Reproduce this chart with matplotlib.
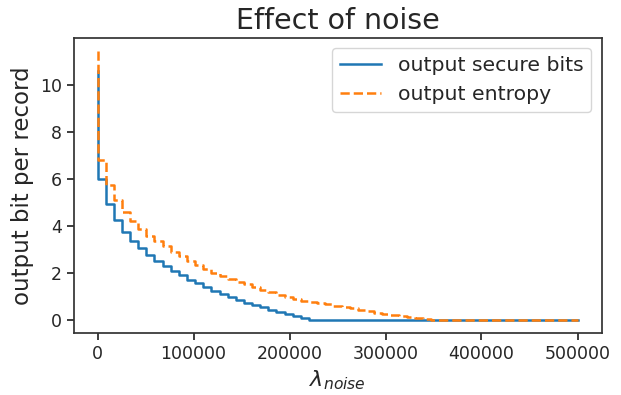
import numpy as np
import matplotlib
matplotlib.use("Agg")
import matplotlib.pyplot as plt

# ---------------------------------------------------------------------------
# DATA
# ---------------------------------------------------------------------------
N_POINTS = 60
LAMBDA_MAX = 500000

secure_bits = [
    10.6, 6.0, 4.95, 4.26, 3.76, 3.38, 3.05, 2.75, 2.49, 2.29,
    2.09, 1.90, 1.72, 1.56, 1.40, 1.25, 1.11, 0.97, 0.85, 0.74,
    0.62, 0.53, 0.43, 0.35, 0.26, 0.17, 0.07,
]
entropy = [
    11.46, 6.81, 5.77, 5.11, 4.61, 4.21, 3.87, 3.58, 3.35, 3.13,
    2.91, 2.71, 2.50, 2.32, 2.15, 1.99, 1.85, 1.73, 1.62, 1.51,
    1.39, 1.29, 1.18, 1.07, 0.99, 0.90, 0.82, 0.76, 0.71, 0.67,
    0.61, 0.55, 0.49, 0.43, 0.37, 0.31, 0.26, 0.21, 0.16, 0.11,
    0.07, 0.03,
]

SERIES_LABELS = ["output secure bits", "output entropy"]
TITLE = "Effect of noise"
XLABEL = r"$\lambda_{noise}$"
YLABEL = "output bit per record"

# pad with zeros once the bits run out
noise = np.linspace(0, LAMBDA_MAX, N_POINTS)
secure_bits = np.array(secure_bits + [0.0] * (N_POINTS - len(secure_bits)))
entropy = np.array(entropy + [0.0] * (N_POINTS - len(entropy)))

# ---------------------------------------------------------------------------
# STYLE
# ---------------------------------------------------------------------------
TEXT = "#262626"
plt.rcParams.update({
    "font.family": "DejaVu Sans",
    "text.color": TEXT,
    "axes.labelcolor": TEXT,
    "xtick.color": TEXT,
    "ytick.color": TEXT,
    "axes.edgecolor": "#333333",
    "axes.linewidth": 1.25,
    "xtick.major.size": 5,
    "ytick.major.size": 5,
    "xtick.major.width": 1.25,
    "ytick.major.width": 1.25,
})

fig, ax = plt.subplots(figsize=(6.21, 3.95), dpi=100)
fig.subplots_adjust(left=73.5 / 621, right=601.5 / 621,
                    top=1 - 37.7 / 395, bottom=1 - 333.3 / 395)

ax.step(noise, secure_bits, where="pre", color="#1f77b4", lw=1.8,
        label=SERIES_LABELS[0])
ax.step(noise, entropy, where="pre", color="#ff7f0e", lw=1.8, ls="--",
        label=SERIES_LABELS[1])

ax.set_title(TITLE, fontsize=20.5)
ax.set_xlabel(XLABEL, fontsize=16)
ax.set_ylabel(YLABEL, fontsize=16.5)
ax.tick_params(labelsize=12.5)
ax.set_xticks([0, 100000, 200000, 300000, 400000, 500000])
ax.ticklabel_format(axis="x", style="plain")
ax.set_yticks([0, 2, 4, 6, 8, 10])

leg = ax.legend(fontsize=14.7, loc="upper right", frameon=True, fancybox=True)
leg.get_frame().set_edgecolor("#cccccc")

fig.savefig("out.png", dpi=100)
plt.close()
